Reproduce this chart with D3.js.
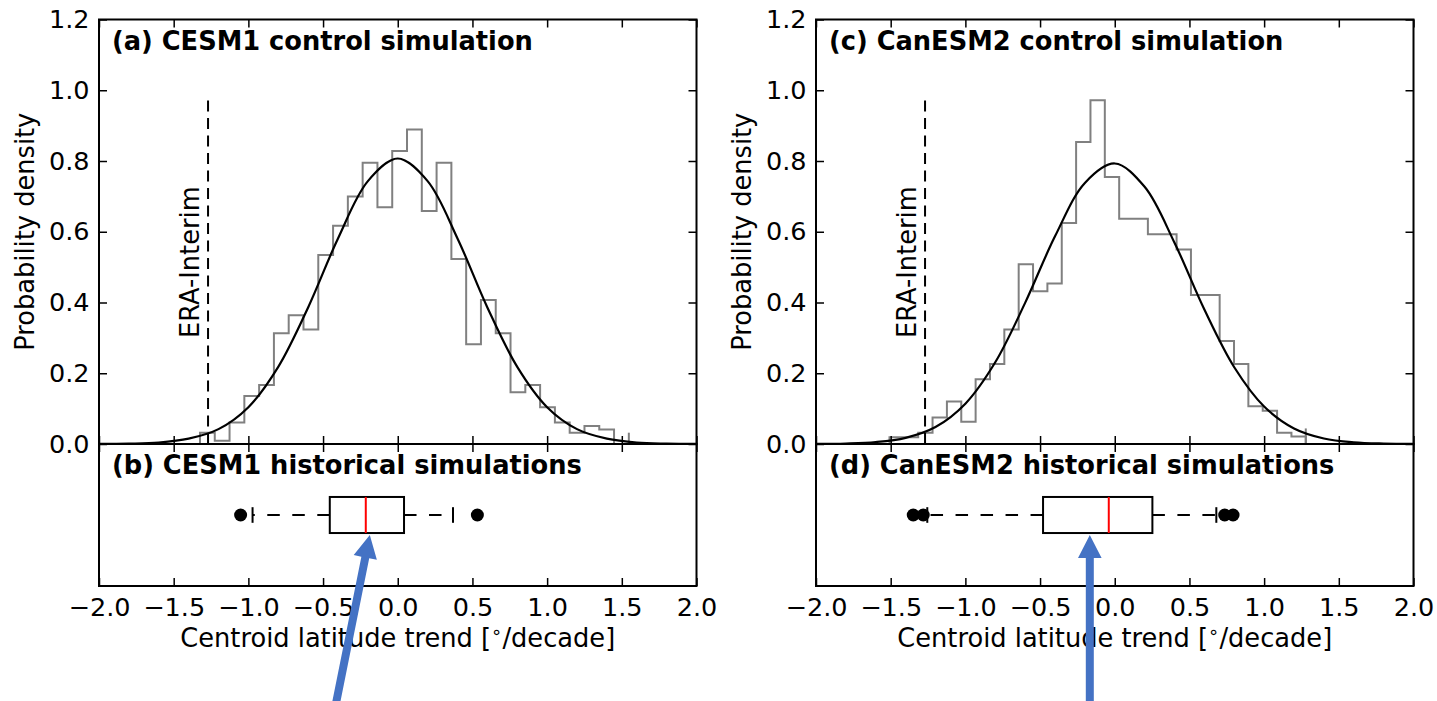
<!DOCTYPE html>
<html lang="en">
<head>
<meta charset="utf-8">
<title>Centroid latitude trends</title>
<script src="https://d3js.org/d3.v7.min.js"></script>
<style>
  body { margin: 0; background: #fff; }
  text { font-family: "DejaVu Sans", sans-serif; fill: #000; }
  .title { font-size: 25.7px; font-weight: bold; }
  .label { font-size: 25.7px; }
</style>
</head>
<body>
<svg width="1437" height="701"></svg>
<script>
// titles
const histTitles = ["(a) CESM1 control simulation", "(c) CanESM2 control simulation"];
const boxTitles = ["(b) CESM1 historical simulations", "(d) CanESM2 historical simulations"];
const yLabel = "Probability density";
const xLabelParts = ["Centroid latitude trend [", "\u2218", "/decade]"];
const eraLabel = "ERA-Interim";

// tick values
const xTicks = [-2.0, -1.5, -1.0, -0.5, 0.0, 0.5, 1.0, 1.5, 2.0];
const yTicks = [0.0, 0.2, 0.4, 0.6, 0.8, 1.0, 1.2];

// histograms (first bin edge, bin width, density per bin, last-edge spike)
const cesmBinStart = -1.324, cesmBinWidth = 0.0990;
const cesmDensity = [0.032, 0.009, 0.061, 0.136, 0.167, 0.313, 0.364, 0.324, 0.534, 0.617,
                     0.700, 0.795, 0.669, 0.828, 0.889, 0.659, 0.795, 0.523, 0.282, 0.407,
                     0.313, 0.146, 0.167, 0.104, 0.061, 0.032, 0.051, 0.041, 0.0];
const cesmTail = 0.032;

const canBinStart = -1.508, canBinWidth = 0.0961;
const canDensity = [0.019, 0.019, 0.032, 0.075, 0.120, 0.063, 0.183, 0.226, 0.324, 0.508,
                    0.432, 0.454, 0.625, 0.854, 0.972, 0.755, 0.637, 0.637, 0.593, 0.593,
                    0.550, 0.421, 0.421, 0.291, 0.226, 0.107, 0.094, 0.032, 0.021];
const canTail = 0.044;

// fitted normal curves
const fitX = [-2.0, -1.8, -1.6, -1.4, -1.2, -1.0, -0.8, -0.6, -0.4, -0.2, 0.0,
              0.2, 0.4, 0.6, 0.8, 1.0, 1.2, 1.4, 1.6, 1.8, 2.0];
const cesmFit = [0.0002, 0.001, 0.004, 0.015, 0.042, 0.104, 0.218, 0.386, 0.581, 0.743, 0.807,
                 0.743, 0.581, 0.386, 0.218, 0.104, 0.042, 0.015, 0.004, 0.001, 0.0002];
const canFit = [0.0003, 0.0014, 0.0054, 0.0175, 0.048, 0.114, 0.231, 0.399, 0.587, 0.738, 0.793,
                0.727, 0.569, 0.380, 0.217, 0.106, 0.044, 0.0156, 0.0047, 0.0012, 0.0003];

// ERA-Interim trend
const eraTrend = -1.27, eraTop = 0.98;

// box plots of historical simulations
const cesmBox = {lo: -0.972, q1: -0.455, med: -0.214, q3: 0.042, hi: 0.370};
const cesmOutliers = [-1.052, 0.533];
const canBox = {lo: -1.255, q1: -0.480, med: -0.040, q3: 0.252, hi: 0.680};
const canOutliers = [-1.349, -1.282, 0.736, 0.792];

// annotation arrows (tip and tail, in trend / box-panel units)
const cesmArrow = {tipX: -0.187, tipY: 0.36, tailX: -0.437, tailY: -0.95};
const canArrow = {tipX: -0.167, tipY: 0.36, tailX: -0.167, tailY: -0.95};

const svg = d3.select("svg");
const panelW = 597.5;
const histTop = 19.5, histBottom = 444, boxBottom = 586;
const tickLen = 8;
const fmt = d3.format(".1f");

const panels = [
  {left: 99, title: histTitles[0], boxTitle: boxTitles[0], binStart: cesmBinStart, binWidth: cesmBinWidth,
   density: cesmDensity, tail: cesmTail, fit: cesmFit, box: cesmBox, outliers: cesmOutliers, arrow: cesmArrow},
  {left: 816, title: histTitles[1], boxTitle: boxTitles[1], binStart: canBinStart, binWidth: canBinWidth,
   density: canDensity, tail: canTail, fit: canFit, box: canBox, outliers: canOutliers, arrow: canArrow}
];

function styleAxis(a, labels) {
  a.select(".domain").remove();
  a.attr("font-size", 25.5).attr("font-family", "DejaVu Sans");
  a.selectAll(".tick line").attr("stroke", "#000").attr("stroke-width", 1.5);
  if (!labels) a.selectAll(".tick text").remove();
}

panels.forEach(p => {
  const x = d3.scaleLinear().domain([-2, 2]).range([p.left, p.left + panelW]);
  const y = d3.scaleLinear().domain([0, 1.2]).range([histBottom, histTop]);
  const yb = d3.scaleLinear().domain([0, 1]).range([boxBottom, histBottom]);
  const g = svg.append("g");
  const line = d3.line().x(d => x(d[0])).y(d => y(d[1]));

  //histogram outline
  const pts = [[p.binStart, 0]];
  p.density.forEach((h, i) => {
    const e0 = p.binStart + i * p.binWidth;
    pts.push([e0, h], [e0 + p.binWidth, h]);
  });
  const end = p.binStart + p.density.length * p.binWidth;
  pts.push([end, 0]);
  g.append("path").attr("d", line(pts))
    .attr("fill", "none").attr("stroke", "#808080").attr("stroke-width", 2);
  g.append("path").attr("d", line([[end, 0], [end, p.tail]]))
    .attr("fill", "none").attr("stroke", "#808080").attr("stroke-width", 2);

  //normal fit
  g.append("path")
    .attr("d", d3.line().x(d => x(d[0])).y(d => y(d[1])).curve(d3.curveCatmullRom)(fitX.map((v, i) => [v, p.fit[i]])))
    .attr("fill", "none").attr("stroke", "#000").attr("stroke-width", 2.2);

  //ERA-Interim line + label
  g.append("line")
    .attr("x1", x(eraTrend)).attr("x2", x(eraTrend))
    .attr("y1", y(0)).attr("y2", y(eraTop))
    .attr("stroke", "#000").attr("stroke-width", 2).attr("stroke-dasharray", "11,6.5");
  g.append("text").attr("class", "label")
    .attr("transform", `translate(${x(eraTrend) - 9},${y(0.514)}) rotate(-90)`)
    .attr("text-anchor", "middle").text(eraLabel);

  //box plot
  const b = p.box;
  const half = 0.127, capHalf = 0.055;
  g.append("line").attr("x1", x(b.q1)).attr("x2", x(b.lo)).attr("y1", yb(0.5)).attr("y2", yb(0.5))
    .attr("stroke", "#000").attr("stroke-width", 2).attr("stroke-dasharray", "12.5,12.5");
  g.append("line").attr("x1", x(b.q3)).attr("x2", x(b.hi)).attr("y1", yb(0.5)).attr("y2", yb(0.5))
    .attr("stroke", "#000").attr("stroke-width", 2).attr("stroke-dasharray", "12.5,12.5");
  [b.lo, b.hi].forEach(v => {
    g.append("line").attr("x1", x(v)).attr("x2", x(v))
      .attr("y1", yb(0.5 - capHalf)).attr("y2", yb(0.5 + capHalf))
      .attr("stroke", "#000").attr("stroke-width", 2);
  });
  g.append("rect").attr("x", x(b.q1)).attr("y", yb(0.5 + half))
    .attr("width", x(b.q3) - x(b.q1)).attr("height", yb(0.5 - half) - yb(0.5 + half))
    .attr("fill", "none").attr("stroke", "#000").attr("stroke-width", 2);
  g.append("line").attr("x1", x(b.med)).attr("x2", x(b.med))
    .attr("y1", yb(0.5 - half)).attr("y2", yb(0.5 + half))
    .attr("stroke", "#ff0000").attr("stroke-width", 2);
  g.selectAll("circle.out").data(p.outliers).enter().append("circle")
    .attr("cx", d => x(d)).attr("cy", yb(0.5)).attr("r", 6.5).attr("fill", "#000");

  //frames
  g.append("rect").attr("x", x(-2)).attr("y", histTop).attr("width", panelW).attr("height", histBottom - histTop)
    .attr("fill", "none").attr("stroke", "#000").attr("stroke-width", 2);
  g.append("rect").attr("x", x(-2)).attr("y", histBottom).attr("width", panelW).attr("height", boxBottom - histBottom)
    .attr("fill", "none").attr("stroke", "#000").attr("stroke-width", 2);

  //axes, ticks inside
  g.append("g").attr("transform", `translate(0,${boxBottom})`)
    .call(d3.axisBottom(x).tickValues(xTicks).tickFormat(fmt).tickSizeInner(-tickLen).tickSizeOuter(0).tickPadding(12))
    .call(a => styleAxis(a, true));
  g.append("g").attr("transform", `translate(0,${histBottom})`)
    .call(d3.axisTop(x).tickValues(xTicks).tickSizeInner(-tickLen).tickSizeOuter(0))
    .call(a => styleAxis(a, false));
  g.append("g").attr("transform", `translate(0,${histBottom})`)
    .call(d3.axisBottom(x).tickValues(xTicks).tickSizeInner(-tickLen).tickSizeOuter(0))
    .call(a => styleAxis(a, false));
  g.append("g").attr("transform", `translate(0,${histTop})`)
    .call(d3.axisTop(x).tickValues(xTicks).tickSizeInner(-tickLen).tickSizeOuter(0))
    .call(a => styleAxis(a, false));
  g.append("g").attr("transform", `translate(${x(-2)},0)`)
    .call(d3.axisLeft(y).tickValues(yTicks).tickFormat(fmt).tickSizeInner(-tickLen).tickSizeOuter(0).tickPadding(9.5))
    .call(a => styleAxis(a, true));
  g.append("g").attr("transform", `translate(${x(2)},0)`)
    .call(d3.axisRight(y).tickValues(yTicks).tickSizeInner(-tickLen).tickSizeOuter(0))
    .call(a => styleAxis(a, false));

  //titles and axis labels
  g.append("text").attr("class", "title").attr("x", x(-2) + 13).attr("y", 50).text(p.title);
  g.append("text").attr("class", "title").attr("x", x(-2) + 13).attr("y", 474).text(p.boxTitle);
  const xl = g.append("text").attr("class", "label").attr("x", x(0)).attr("y", 647)
    .attr("text-anchor", "middle");
  xl.append("tspan").text(xLabelParts[0]);
  xl.append("tspan").attr("font-size", "18px").attr("dy", -9).text(xLabelParts[1]);
  xl.append("tspan").attr("dy", 9).text(xLabelParts[2]);
  g.append("text").attr("class", "label")
    .attr("transform", `translate(${x(-2) - 65},${y(0.6)}) rotate(-90)`)
    .attr("text-anchor", "middle").text(yLabel);

  //blue arrow
  const a = p.arrow;
  const tx = x(a.tipX), ty = yb(a.tipY), sx = x(a.tailX), sy = yb(a.tailY);
  const len = Math.hypot(tx - sx, ty - sy);
  const ux = (tx - sx) / len, uy = (ty - sy) / len;
  const nx = -uy, ny = ux;
  const headL = 23, headW = 11.8, shaftW = 4;
  const bx = tx - ux * headL, by = ty - uy * headL;
  const arrowPts = [
    [sx + nx * shaftW, sy + ny * shaftW],
    [bx + nx * shaftW, by + ny * shaftW],
    [bx + nx * headW, by + ny * headW],
    [tx, ty],
    [bx - nx * headW, by - ny * headW],
    [bx - nx * shaftW, by - ny * shaftW],
    [sx - nx * shaftW, sy - ny * shaftW]
  ];
  g.append("path").attr("d", "M" + arrowPts.map(d => d.join(",")).join("L") + "Z")
    .attr("fill", "#4472c4");
});
</script>
</body>
</html>
